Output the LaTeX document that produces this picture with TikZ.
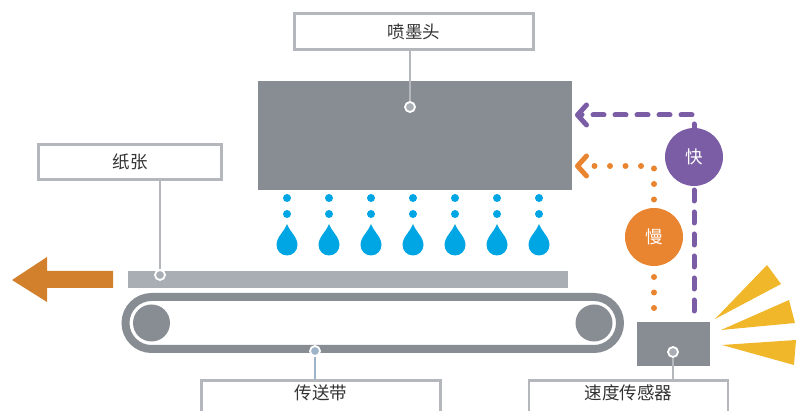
\documentclass[tikz,border=0pt]{standalone}
\usepackage{fontspec}
\newfontfamily\cjk{Noto Sans CJK SC}
\usepackage{tikz}
\usetikzlibrary{arrows.meta}

\definecolor{headgray}{HTML}{888D94}
\definecolor{papergray}{HTML}{A9AEB4}
\definecolor{boxline}{HTML}{B4B8BD}
\definecolor{beltline}{HTML}{9DB3C8}
\definecolor{fastpurple}{HTML}{7B5DA6}
\definecolor{sloworange}{HTML}{E98430}
\definecolor{outorange}{HTML}{D3802D}
\definecolor{inkblue}{HTML}{00A5E3}
\definecolor{rayyellow}{HTML}{F1B72A}
\definecolor{textgray}{HTML}{333333}

\tikzset{
    labelbox/.style={
        rectangle,
        draw=boxline,
        fill=white,
        line width=2.6pt,
        text=textgray,
        font=\cjk\fontsize{17.5}{20}\selectfont},
    pindot/.style={
        circle,
        fill=papergray,
        draw=white,
        line width=1.8pt,
        inner sep=0pt,
        minimum size=10pt},
    leader/.style={
        draw=boxline,
        line width=2.4pt},
    speedball/.style={
        circle,
        minimum size=58pt,
        inner sep=0pt,
        text=white,
        font=\cjk\fontsize{17.5}{20}\selectfont},
    fastline/.style={
        draw=fastpurple,
        line width=5pt,
        line cap=round,
        line join=round,
        dash pattern=on 11pt off 11pt,
        -{Straight Barb[length=9pt, width=20pt, round]}},
    slowline/.style={
        draw=sloworange,
        line width=6pt,
        line cap=round,
        line join=round,
        dash pattern=on 0pt off 15.5pt,
        -{Straight Barb[length=9pt, width=20pt, round, line width=5pt]}}
}

\begin{document}
\begin{tikzpicture}[x=1pt, y=-1pt]
    \useasboundingbox (0,0) rectangle (804,411);
    \clip (0,0) rectangle (804,411);

    % print head and ink drops
    \node[
        rectangle,
        fill=headgray,
        inner sep=0pt,
        minimum width=314pt,
        minimum height=109pt]
        (head) at (415,135.5) {};
    \foreach \i in {0,...,6} {
        \pgfmathsetmacro{\dx}{287+42*\i}
        \fill[inkblue] (\dx,198) circle (4);
        \fill[inkblue] (\dx,214) circle (4);
        \fill[inkblue] (\dx,224) .. controls (\dx+3,232) and (\dx+10.5,237) .. (\dx+10.5,245)
            arc (0:180:10.5) .. controls (\dx-10.5,237) and (\dx-3,232) .. cycle;
    }

    % paper and outgoing arrow
    \node[
        rectangle,
        fill=papergray,
        inner sep=0pt,
        minimum width=440pt,
        minimum height=17pt]
        (paper) at (348,279.5) {};
    \fill[outorange] (12,280) -- (47,257) -- (47,271) -- (113,271)
        -- (113,288) -- (47,288) -- (47,302) -- cycle;

    % conveyor belt
    \draw[headgray, line width=8pt, rounded corners=26pt] (125.5,297) rectangle (620,349);
    \node[circle, fill=headgray, minimum size=37pt, inner sep=0pt] (rollerL) at (151.5,323) {};
    \node[circle, fill=headgray, minimum size=37pt, inner sep=0pt] (rollerR) at (594,323) {};

    % speed sensor and its rays
    \node[
        rectangle,
        fill=headgray,
        inner sep=0pt,
        minimum width=73pt,
        minimum height=44pt]
        (sensor) at (673.5,344) {};
    \fill[rayyellow] (715,319) -- (767,265) -- (781,284) -- cycle;
    \fill[rayyellow] (721,330) -- (789,300) -- (795,323) -- cycle;
    \fill[rayyellow] (722,345) -- (796,340) -- (794,365) -- cycle;

    % feedback lines
    \coordinate (fastout) at (694,311);
    \coordinate (fastin) at (575,115);
    \coordinate (slowout) at (654,308);
    \coordinate (slowin) at (575,166);
    \draw[fastline] (fastout) |- (fastin);
    \draw[slowline] (slowout) |- (slowin);
    \node[speedball, fill=fastpurple] (fast) at (694,157) {快};
    \node[speedball, fill=sloworange] (slow) at (654,237) {慢};

    % labels
    \node[
        labelbox,
        minimum width=239pt,
        minimum height=36pt]
        (headbox) at (414,31.5) {喷墨头};
    \node[
        labelbox,
        minimum width=183pt,
        minimum height=35pt]
        (paperbox) at (130,162) {纸张};
    \node[
        labelbox,
        anchor=north,
        minimum width=239pt,
        text height=13pt,
        text depth=20pt,
        inner ysep=6pt]
        (beltbox) at (321,379.5) {传送带};
    \node[
        labelbox,
        anchor=north,
        minimum width=199pt,
        text height=13pt,
        text depth=20pt,
        inner ysep=6pt]
        (sensorbox) at (628.5,379.5) {速度传感器};

    \node[pindot] (headdot) at (410,107) {};
    \node[pindot] (paperdot) at (160,275) {};
    \node[pindot, fill=beltline] (beltdot) at (315,351) {};
    \node[pindot] (sensordot) at (673,352) {};

    \draw[leader] (headdot.north) -- (headdot |- headbox.south);
    \draw[leader] (paperdot.north) -- (paperdot |- paperbox.south);
    \draw[leader, draw=beltline] (beltdot.south) -- (beltdot |- beltbox.north);
    \draw[leader] (sensordot.south) -- (sensordot |- sensorbox.north);
\end{tikzpicture}
\end{document}
